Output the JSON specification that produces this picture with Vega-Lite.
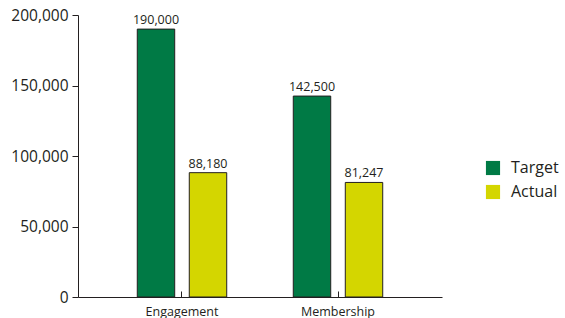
{
  "$schema": "https://vega.github.io/schema/vega-lite/v6.json",
  "width": 364,
  "height": 282,
  "autosize": {"type": "none"},
  "padding": {"left": 78, "top": 15, "right": 123, "bottom": 21},
  "config": {"view": {"stroke": null}, "font": "Open Sans"},
  "data": {
    "values": [
      {"category": "Engagement", "series": "Target", "value": 190000},
      {"category": "Engagement", "series": "Actual", "value": 88180},
      {"category": "Membership", "series": "Target", "value": 142500},
      {"category": "Membership", "series": "Actual", "value": 81247}
    ]
  },
  "encoding": {
    "x": {
      "field": "category",
      "type": "nominal",
      "sort": ["Engagement", "Membership"],
      "scale": {"paddingInner": 0.3333, "paddingOuter": 0.3333},
      "axis": {
        "title": null,
        "labelAngle": 0,
        "tickSize": -6,
        "tickColor": "#231F20",
        "domainColor": "#231F20",
        "labelColor": "#231F20",
        "labelFontSize": 12.5,
        "labelPadding": 14
      }
    },
    "xOffset": {
      "field": "series",
      "sort": ["Target", "Actual"],
      "scale": {"paddingInner": 0.28, "paddingOuter": 0.14}
    },
    "y": {
      "field": "value",
      "type": "quantitative",
      "scale": {"domain": [0, 200000]},
      "axis": {
        "title": null,
        "values": [0, 50000, 100000, 150000, 200000],
        "grid": false,
        "format": ",.0f",
        "tickSize": 6,
        "tickColor": "#231F20",
        "domainColor": "#231F20",
        "labelColor": "#231F20",
        "labelFontSize": 15.5,
        "labelPadding": 4
      }
    }
  },
  "layer": [
    {
      "mark": {"type": "bar", "stroke": "#231F20", "strokeWidth": 1},
      "encoding": {
        "color": {
          "field": "series",
          "type": "nominal",
          "scale": {"domain": ["Target", "Actual"], "range": ["#007A45", "#D4D600"]},
          "legend": {
            "title": null,
            "orient": "none",
            "legendX": 407,
            "legendY": 145,
            "symbolType": "square",
            "symbolSize": 200,
            "symbolStrokeWidth": 0,
            "symbolOpacity": 1,
            "labelFontSize": 16,
            "labelColor": "#231F20",
            "labelOffset": 10,
            "rowPadding": 8
          }
        }
      }
    },
    {
      "mark": {"type": "text", "baseline": "bottom", "dy": -2, "fontSize": 12.5, "color": "#231F20"},
      "encoding": {"text": {"field": "value", "type": "quantitative", "format": ",.0f"}}
    }
  ]
}
